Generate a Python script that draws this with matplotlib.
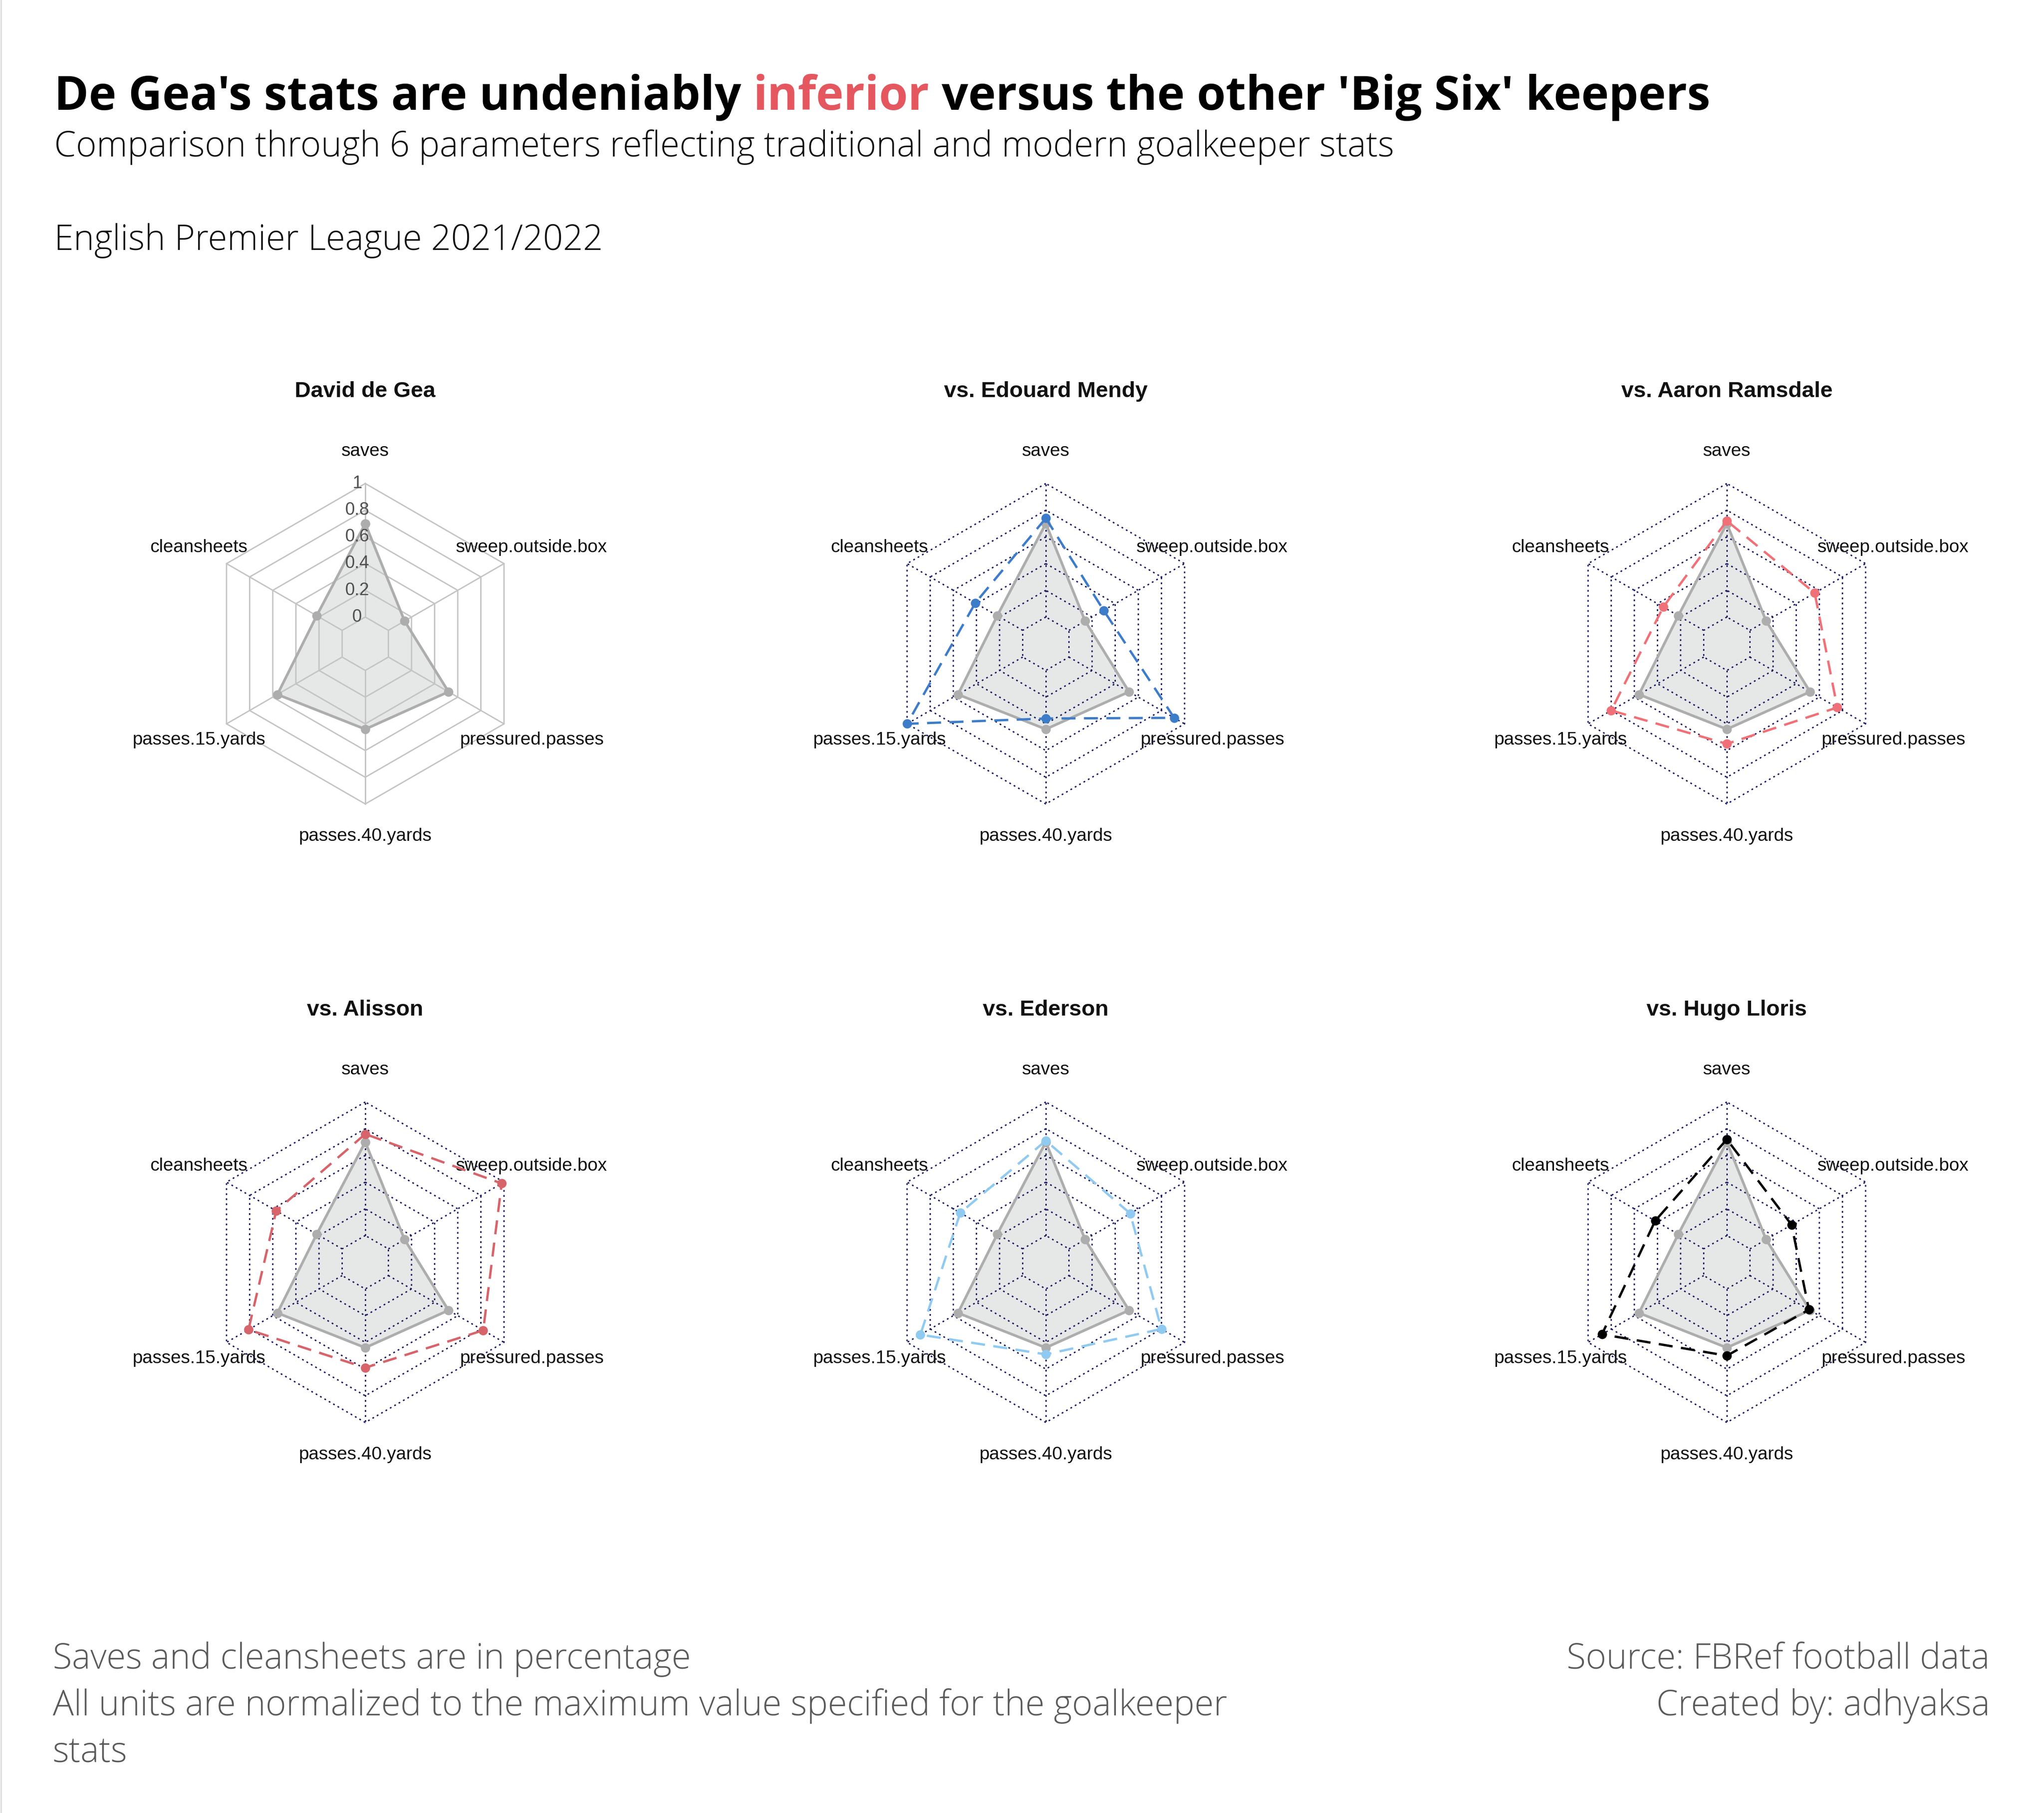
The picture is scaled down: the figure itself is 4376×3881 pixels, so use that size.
import numpy as np
import matplotlib
matplotlib.use("Agg")
import matplotlib.pyplot as plt
from matplotlib.lines import Line2D

# 軸の並び（上から反時計回り）
categories = ["saves", "cleansheets", "passes.15.yards", "passes.40.yards",
              "pressured.passes", "sweep.outside.box"]

# 0-1 に正規化した値
de_gea = [0.70, 0.22, 0.56, 0.44, 0.52, 0.14]
mendy = [0.74, 0.41, 1.00, 0.36, 0.91, 0.30]
ramsdale = [0.72, 0.35, 0.80, 0.55, 0.755, 0.56]
alisson = [0.76, 0.57, 0.81, 0.59, 0.82, 0.98]
ederson = [0.71, 0.54, 0.885, 0.49, 0.80, 0.53]
lloris = [0.72, 0.42, 0.88, 0.50, 0.51, 0.36]

panel_titles = ["David de Gea", "vs. Edouard Mendy", "vs. Aaron Ramsdale",
                "vs. Alisson", "vs. Ederson", "vs. Hugo Lloris"]
panel_values = [None, mendy, ramsdale, alisson, ederson, lloris]
panel_colors = [None, "#3D7CC9", "#EF7177", "#D6646A", "#90CAF0", "#000000"]
ring_levels = [0, 0.2, 0.4, 0.6, 0.8, 1.0]
ring_labels = ["0", "0.2", "0.4", "0.6", "0.8", "1"]

W, H = 4376, 3881
DPI = 300
R = 343  # レーダーの半径（px）
centers = [(782, 1378), (2239, 1378), (3697, 1378),
           (782, 2702), (2239, 2702), (3697, 2702)]

label_font = "Liberation Sans"
head_font = "Open Sans"
navy = "#181860"
dotted = (0, (1.3, 2.4))

fig = plt.figure(figsize=(W / DPI, H / DPI), dpi=DPI)
fig.patch.set_facecolor("white")

theta = np.arange(len(categories)) * 2 * np.pi / len(categories)
theta_closed = np.append(theta, theta[0])


def closed(vals):
    return np.append(np.array(vals), vals[0])


def radar(ax, title, values, color, base):
    ax.set_theta_offset(np.pi / 2)
    ax.set_ylim(0, 1)
    ax.set_rorigin(-0.2)
    ax.set_axis_off()

    if base:
        gcol, gls = "#C4C4C4", "-"
    else:
        gcol, gls = navy, dotted

    # グリッド（六角形と放射線）
    for lev in ring_levels:
        ax.plot(theta_closed, [lev] * len(theta_closed), color=gcol, lw=0.7,
                linestyle=gls, zorder=2, clip_on=False)
    for t in theta:
        ax.plot([t, t], [0, 1], color=gcol, lw=0.7, linestyle=gls, zorder=2,
                clip_on=False)

    # De Gea（灰色の塗り）
    ax.fill(theta_closed, closed(de_gea), color="#E6E7E7", lw=0, zorder=1,
            clip_on=False)
    ax.plot(theta_closed, closed(de_gea), color="#ADADAD", lw=1.35, zorder=3,
            marker="o", markersize=3.8, clip_on=False)

    if values is not None:
        ax.plot(theta_closed, closed(values), color=color, lw=1.2,
                linestyle=(0, (6, 3.6)), zorder=4, clip_on=False)
        ax.plot(theta, values, color=color, lw=0, marker="o", markersize=3.8,
                zorder=5, clip_on=False)

    for t, name in zip(theta, categories):
        ax.text(t, 1.24, name, ha="center", va="center", fontsize=9.4,
                family=label_font, color="#111111")

    if base:
        for lev, lab in zip(ring_levels, ring_labels):
            ax.annotate(lab, xy=(0, lev), xytext=(-4.3, 0), textcoords="offset points",
                        ha="center", va="center", fontsize=9, family=label_font,
                        color="#505050", zorder=6)

    ax.text(0.5, 1.287, title, transform=ax.transAxes, ha="center", va="center",
            fontsize=11.4, fontweight="bold", family=label_font, color="#111111")


for i, (cx, cy) in enumerate(centers):
    rect = [(cx - R) / W, 1 - (cy + R) / H, 2 * R / W, 2 * R / H]
    ax = fig.add_axes(rect, projection="polar")
    radar(ax, panel_titles[i], panel_values[i], panel_colors[i], base=(i == 0))

# タイトル（一部だけ赤）
renderer = fig.canvas.get_renderer()
x0 = 116 / W
y_title = 1 - 235 / H
parts = [("De Gea's stats are undeniably ", "#000000"), ("inferior", "#E5575F"),
         (" versus the other 'Big Six' keepers", "#000000")]
x = x0
for txt, col in parts:
    t = fig.text(x, y_title, txt, fontsize=24, fontweight="bold", family=head_font,
                 color=col, ha="left", va="baseline")
    bb = t.get_window_extent(renderer=renderer)
    x += bb.width / W

fig.text(x0, 1 - 335 / H,
         "Comparison through 6 parameters reflecting traditional and modern goalkeeper stats",
         fontsize=18, fontweight="light", family=head_font, color="#111111",
         ha="left", va="baseline")
fig.text(x0, 1 - 535 / H, "English Premier League 2021/2022",
         fontsize=18, fontweight="light", family=head_font, color="#111111",
         ha="left", va="baseline")

# 注記
foot_col = "#5A5A5A"
foot_lines = ["Saves and cleansheets are in percentage",
              "All units are normalized to the maximum value specified for the goalkeeper",
              "stats"]
for k, line in enumerate(foot_lines):
    fig.text(113 / W, 1 - (3572 + 100 * k) / H, line, fontsize=18,
             fontweight="light", family=head_font, color=foot_col,
             ha="left", va="baseline")
for k, line in enumerate(["Source: FBRef football data", "Created by: adhyaksa"]):
    fig.text(4260 / W, 1 - (3572 + 100 * k) / H, line, fontsize=18,
             fontweight="light", family=head_font, color=foot_col,
             ha="right", va="baseline")

fig.add_artist(Line2D([1.5 / W, 1.5 / W], [0, 1], color="#DDDDDD", lw=0.8))

fig.savefig("out.png", dpi=DPI, facecolor="white")
